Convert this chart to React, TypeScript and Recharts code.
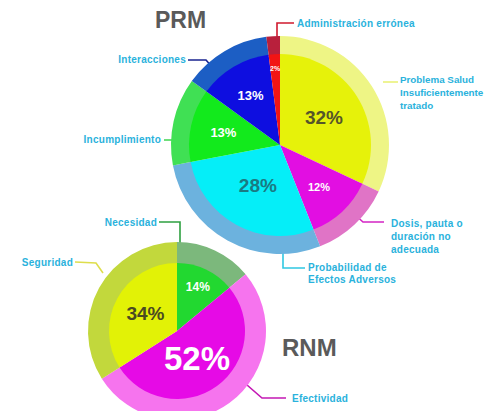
import React from 'react';
import { PieChart, Pie, Cell, Customized } from 'recharts';

// ---- Data ----
const prmCategories = [
  'Problema Salud Insuficientemente tratado',
  'Dosis, pauta o duración no adecuada',
  'Probabilidad de Efectos Adversos',
  'Incumplimiento',
  'Interacciones',
  'Administración errónea',
];
const prmValues = [32, 12, 28, 13, 13, 2];

const rnmCategories = ['Necesidad', 'Efectividad', 'Seguridad'];
const rnmValues = [14, 52, 34];

const prmLabelLines = [
  ['Problema Salud', 'Insuficientemente', 'tratado'],
  ['Dosis, pauta o', 'duración no', 'adecuada'],
  ['Probabilidad de', 'Efectos Adversos'],
  ['Incumplimiento'],
  ['Interacciones'],
  ['Administración errónea'],
];
const rnmLabelLines = [['Necesidad'], ['Efectividad'], ['Seguridad']];

// ---- Styles / layout ----
const FONT = '"Liberation Sans", Arial, sans-serif';
const LABEL_COLOR = '#2ab2dc';

const prmInner = ['#e6f20a', '#e20ee2', '#05eef8', '#12ea1c', '#0e0ee0', '#f21414'];
const prmRing = ['#eef585', '#e074c6', '#6cb2de', '#40e054', '#1c5ec4', '#b8203c'];
const rnmInner = ['#22d830', '#e60ae6', '#e2f206'];
const rnmRing = ['#7cb87c', '#f674ee', '#c2d83c'];

const PRM = { cx: 280, cy: 145, r1: 91, r2: 109 };
const RNM = { cx: 177, cy: 331, r1: 68, r2: 89 };

const prmPctStyle = [
  { r: 52, size: 19, color: '#55552a' },
  { r: 57, size: 11, color: '#ffffff' },
  { r: 46, size: 19, color: '#1a7a82' },
  { r: 58, size: 13, color: '#ffffff' },
  { r: 58, size: 13, color: '#ffffff' },
  { r: 77, size: 7, color: '#ffffff' },
];
const rnmPctStyle = [
  { r: 49, size: 12, color: '#ffffff' },
  { r: 34, size: 33, color: '#ffffff' },
  { r: 36, size: 19, color: '#4a4a22' },
];

// leader lines & label anchors
const prmLeaders = [
  { color: '#eaf27a', pts: [[383, 82], [398, 82]], x: 400, y: 79, anchor: 'start', lh: 13, fs: 9.8, ls: 0 },
  { color: '#d424c4', pts: [[352, 212], [363, 222], [384, 222]], x: 391, y: 223, anchor: 'start', lh: 13, fs: 10, ls: 0.25 },
  { color: '#30c8e2', pts: [[283, 253], [283, 268], [305, 268]], x: 308, y: 267, anchor: 'start', lh: 12, fs: 10, ls: 0.25 },
  { color: '#4cd85a', pts: [[164, 140], [177, 140]], x: 161, y: 139, anchor: 'end', lh: 13, fs: 10, ls: 0.25 },
  { color: '#1a2490', pts: [[188, 60], [206, 60], [214, 69]], x: 186, y: 59, anchor: 'end', lh: 13, fs: 10, ls: 0.25 },
  { color: '#d01a2e', pts: [[277, 39], [277, 23], [294, 23]], x: 297, y: 23, anchor: 'start', lh: 13, fs: 10, ls: 0.25 },
];
const rnmLeaders = [
  { color: '#2ea040', pts: [[159, 222], [180, 222], [180, 243]], x: 157, y: 222, anchor: 'end', lh: 13, fs: 10, ls: 0.25 },
  { color: '#c418b4', pts: [[232, 372], [262, 398], [286, 398]], x: 292, y: 398, anchor: 'start', lh: 13, fs: 10, ls: 0.25 },
  { color: '#dede4c', pts: [[75, 262], [96, 263], [103, 273]], x: 73, y: 262, anchor: 'end', lh: 13, fs: 10, ls: 0.25 },
];

const prmData = prmCategories.map((name, i) => ({ name, value: prmValues[i] }));
const rnmData = rnmCategories.map((name, i) => ({ name, value: rnmValues[i] }));

const RAD = Math.PI / 180;

function makePctLabel(styles: { r: number; size: number; color: string }[]) {
  return (props: any) => {
    const { cx, cy, midAngle, index, value } = props;
    const s = styles[index];
    const x = cx + s.r * Math.cos(-midAngle * RAD);
    const y = cy + s.r * Math.sin(-midAngle * RAD);
    return (
      <text
        x={x}
        y={y}
        fill={s.color}
        fontSize={s.size}
        fontWeight="bold"
        fontFamily={FONT}
        textAnchor="middle"
        dominantBaseline="central"
      >
        {`${value}%`}
      </text>
    );
  };
}

function Annotations() {
  const renderLeaders = (leaders: any[], lines: string[][]) =>
    leaders.map((l, i) => (
      <g key={i}>
        <polyline
          points={l.pts.map((p: number[]) => p.join(',')).join(' ')}
          fill="none"
          stroke={l.color}
          strokeWidth={1.6}
        />
        {lines[i].map((t, j) => (
          <text
            key={j}
            x={l.x}
            y={l.y + j * l.lh}
            fill={LABEL_COLOR}
            fontSize={l.fs}
            letterSpacing={l.ls}
            fontWeight="bold"
            fontFamily={FONT}
            textAnchor={l.anchor}
            dominantBaseline="central"
          >
            {t}
          </text>
        ))}
      </g>
    ));
  return (
    <g>
      {renderLeaders(prmLeaders, prmLabelLines)}
      {renderLeaders(rnmLeaders, rnmLabelLines)}
      <text x={155} y={28} fill="#5a5a5a" fontSize={23} fontWeight="bold" fontFamily={FONT}>
        PRM
      </text>
      <text x={282} y={356} fill="#5a5a5a" fontSize={24} fontWeight="bold" fontFamily={FONT}>
        RNM
      </text>
    </g>
  );
}

export default function App() {
  return (
    <div style={{ position: 'absolute', left: 0, top: 0, width: 488, height: 411, background: '#ffffff' }}>
      <PieChart width={488} height={411} margin={{ top: 0, right: 0, bottom: 0, left: 0 }}>
        <Pie
          data={prmData}
          dataKey="value"
          cx={PRM.cx}
          cy={PRM.cy}
          innerRadius={PRM.r1 - 1}
          outerRadius={PRM.r2}
          startAngle={90}
          endAngle={-270}
          stroke="none"
          isAnimationActive={false}
        >
          {prmData.map((_, i) => (
            <Cell key={i} fill={prmRing[i]} />
          ))}
        </Pie>
        <Pie
          data={prmData}
          dataKey="value"
          cx={PRM.cx}
          cy={PRM.cy}
          innerRadius={0}
          outerRadius={PRM.r1}
          startAngle={90}
          endAngle={-270}
          stroke="none"
          isAnimationActive={false}
          labelLine={false}
          label={makePctLabel(prmPctStyle)}
        >
          {prmData.map((_, i) => (
            <Cell key={i} fill={prmInner[i]} />
          ))}
        </Pie>
        <Pie
          data={rnmData}
          dataKey="value"
          cx={RNM.cx}
          cy={RNM.cy}
          innerRadius={RNM.r1 - 1}
          outerRadius={RNM.r2}
          startAngle={90}
          endAngle={-270}
          stroke="none"
          isAnimationActive={false}
        >
          {rnmData.map((_, i) => (
            <Cell key={i} fill={rnmRing[i]} />
          ))}
        </Pie>
        <Pie
          data={rnmData}
          dataKey="value"
          cx={RNM.cx}
          cy={RNM.cy}
          innerRadius={0}
          outerRadius={RNM.r1}
          startAngle={90}
          endAngle={-270}
          stroke="none"
          isAnimationActive={false}
          labelLine={false}
          label={makePctLabel(rnmPctStyle)}
        >
          {rnmData.map((_, i) => (
            <Cell key={i} fill={rnmInner[i]} />
          ))}
        </Pie>
        <Customized component={Annotations} />
      </PieChart>
    </div>
  );
}
